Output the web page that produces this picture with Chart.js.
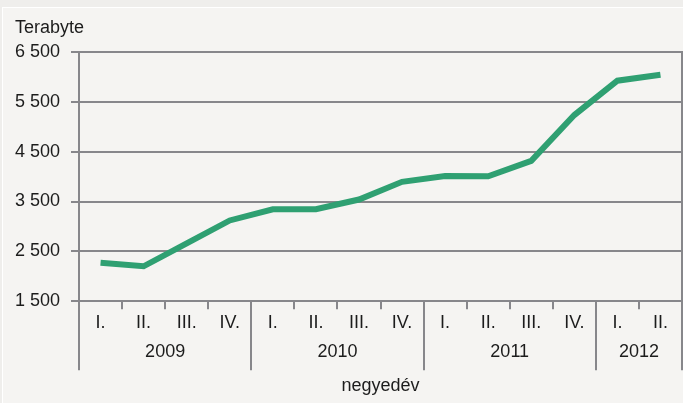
<!DOCTYPE html>
<html>
<head>
<meta charset="utf-8">
<script src="https://cdn.jsdelivr.net/npm/chart.js@4/dist/chart.umd.min.js"></script>
<style>
  html, body { margin: 0; padding: 0; background: #efeeec; }
  #wrap { position: relative; width: 683px; height: 403px; overflow: hidden; background: #efeeec; }
  #frame { position: absolute; left: 2px; top: 7px; width: 690px; height: 410px; background: #f5f4f2; border-left: 1px solid #ffffff; border-top: 1px solid #ffffff; }
  canvas { position: absolute; left: 0; top: 0; }
</style>
</head>
<body>
<div id="wrap">
  <div id="frame"></div>
  <canvas id="c" width="683" height="403"></canvas>
</div>
<script>
const quarters = ['I.', 'II.', 'III.', 'IV.', 'I.', 'II.', 'III.', 'IV.', 'I.', 'II.', 'III.', 'IV.', 'I.', 'II.'];
const years = ['2009', '2010', '2011', '2012'];
const quartersPerYear = [4, 4, 4, 2];
const storage = [2270, 2200, 2660, 3120, 3345, 3345, 3540, 3895, 4010, 4005, 4315, 5235, 5925, 6045];
const yTickValues = [1500, 2500, 3500, 4500, 5500, 6500];
const yAxisTitle = 'Terabyte';
const xAxisTitle = 'negyedév';

const FONT = "'Liberation Sans', Arial, sans-serif";
const FSIZE = 18;
const GRID = '#87878b';
const TEXT = '#1c1c1c';

// group boundaries and centres in category-index units
const bounds = [-0.5];
const centres = [];
quartersPerYear.forEach(n => {
  const start = bounds[bounds.length - 1];
  centres.push(start + n / 2);
  bounds.push(start + n);
});

function fmt(v) {
  return String(v).replace(/\B(?=(\d{3})+(?!\d))/g, ' ');
}

const groupPlugin = {
  id: 'groupLines',
  beforeDatasetsDraw(chart) {
    const x = chart.scales.x;
    const area = chart.chartArea;
    const ctx = chart.ctx;
    ctx.save();
    ctx.strokeStyle = GRID;
    ctx.lineWidth = 2;
    const bottom = area.bottom + 69;
    bounds.forEach(b => {
      const px = Math.round(x.getPixelForValue(b));
      ctx.beginPath();
      ctx.moveTo(px, area.bottom);
      ctx.lineTo(px, bottom);
      ctx.stroke();
    });
    const last = Math.round(x.getPixelForValue(bounds[bounds.length - 1]));
    ctx.beginPath();
    ctx.moveTo(last, area.top - 1);
    ctx.lineTo(last, area.bottom);
    ctx.stroke();
    ctx.restore();
  },
  afterDraw(chart) {
    const ctx = chart.ctx;
    ctx.save();
    ctx.fillStyle = TEXT;
    ctx.font = FSIZE + 'px ' + FONT;
    ctx.textAlign = 'left';
    ctx.textBaseline = 'alphabetic';
    ctx.fillText(yAxisTitle, 15, 33);
    ctx.restore();
  }
};

new Chart(document.getElementById('c'), {
  type: 'line',
  data: {
    labels: quarters,
    datasets: [{
      data: storage,
      borderColor: '#2fa072',
      borderWidth: 6,
      pointRadius: 0,
      tension: 0,
      borderJoinStyle: 'miter',
      fill: false
    }]
  },
  options: {
    responsive: false,
    animation: false,
    events: [],
    layout: { padding: { left: 0, right: 1, top: 52, bottom: 6 } },
    plugins: {
      legend: { display: false },
      tooltip: { enabled: false },
      title: { display: false }
    },
    scales: {
      y: {
        min: 1500,
        max: 6500,
        afterBuildTicks(scale) { scale.ticks = yTickValues.map(v => ({ value: v })); },
        afterFit(scale) { scale.width = 79; },
        ticks: {
          color: TEXT,
          font: { family: FONT, size: FSIZE },
          padding: 11,
          callback: v => fmt(v)
        },
        grid: { color: GRID, lineWidth: 2, tickLength: 8 },
        border: { color: GRID, width: 2 }
      },
      x: {
        type: 'category',
        offset: true,
        grid: { offset: true, drawOnChartArea: false, color: GRID, lineWidth: 2, tickLength: 8 },
        border: { color: GRID, width: 2 },
        ticks: {
          color: TEXT,
          font: { family: FONT, size: FSIZE },
          padding: 3,
          maxRotation: 0,
          autoSkip: false
        }
      },
      x2: {
        type: 'linear',
        position: 'bottom',
        min: bounds[0],
        max: bounds[bounds.length - 1],
        afterBuildTicks(scale) { scale.ticks = centres.map(c => ({ value: c })); },
        grid: { display: false, drawTicks: false },
        border: { display: false },
        ticks: {
          color: TEXT,
          font: { family: FONT, size: FSIZE },
          padding: 4,
          maxRotation: 0,
          autoSkip: false,
          callback: v => { const i = centres.indexOf(v); return i >= 0 ? years[i] : ''; }
        },
        title: {
          display: true,
          text: xAxisTitle,
          color: TEXT,
          font: { family: FONT, size: FSIZE },
          padding: { top: 9, bottom: 0 }
        }
      }
    }
  },
  plugins: [groupPlugin]
});
</script>
</body>
</html>
